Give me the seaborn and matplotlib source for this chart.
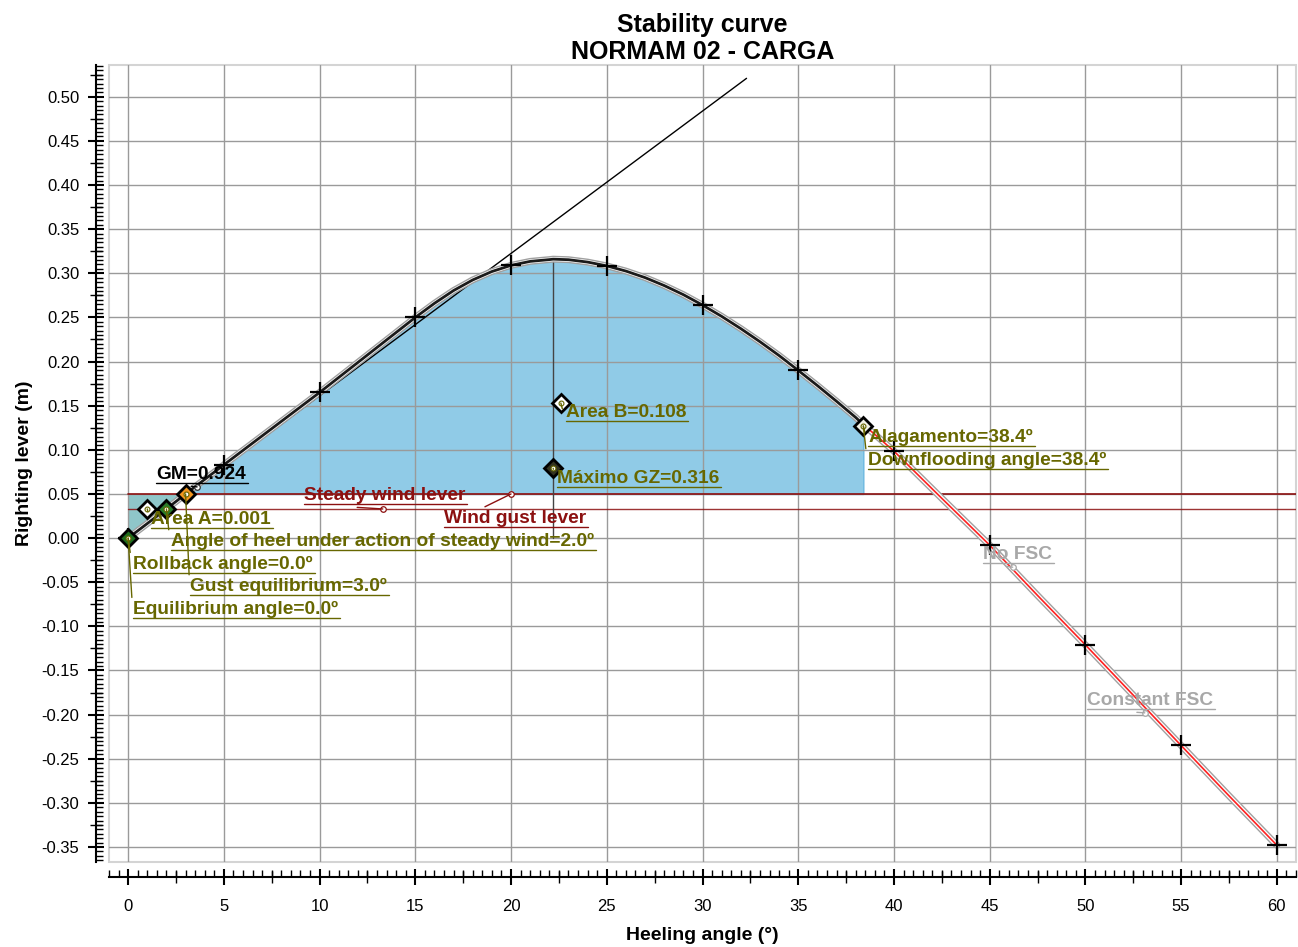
import numpy as np
import pandas as pd
import matplotlib
matplotlib.use("Agg")
import matplotlib.pyplot as plt
import matplotlib.ticker as mticker
from matplotlib.patches import Rectangle
import seaborn as sns

# ---------------- data ----------------
angles = [0, 1, 2, 3, 5, 7.5, 10, 12.5, 15, 16, 17, 18, 19, 20, 21, 22, 22.2, 23, 24,
          25, 26, 27, 28, 29, 30, 31, 32, 33, 34, 35, 36, 37, 38, 38.4, 39, 40,
          42.5, 45, 47.5, 50, 52.5, 55, 57.5, 60]
gz = [0.000, 0.0165, 0.033, 0.050, 0.083, 0.124, 0.165, 0.2075, 0.250, 0.266, 0.2805,
      0.2925, 0.302, 0.309, 0.3135, 0.3155, 0.316, 0.3154, 0.3127, 0.3084, 0.3025,
      0.2951, 0.2861, 0.2758, 0.2640, 0.2512, 0.2373, 0.2225, 0.2068, 0.1900, 0.1728,
      0.1550, 0.1367, 0.1285, 0.1175, 0.0985, 0.045, -0.008, -0.065, -0.121, -0.178,
      -0.235, -0.292, -0.348]
cross_angles = [0, 5, 10, 15, 20, 25, 30, 35, 40, 45, 50, 55, 60]
cross_gz = [0.000, 0.083, 0.165, 0.250, 0.309, 0.3084, 0.264, 0.190, 0.0985,
            -0.008, -0.121, -0.235, -0.348]

gm = 0.924
gm_line_end = 32.3
steady_lever = 0.033
gust_lever = 0.050
gust_eq = 3.0
steady_heel = 2.0
downflood = 38.4
max_gz_angle = 22.2
max_gz = 0.316

x_major = list(range(0, 61, 5))
y_major = [round(-0.35 + 0.05 * i, 2) for i in range(18)]
x_medium = [2.5 + 5 * i for i in range(12)]
y_medium = [round(-0.325 + 0.05 * i, 3) for i in range(18)]

# diamonds
diamonds_x = [0.0, 1.0, 2.0, 3.0, 22.6, 22.2, 38.4]
diamonds_y = [0.000, 0.033, 0.033, 0.050, 0.153, 0.079, 0.127]
diamonds_c = ["#1e6e1e", "#ffffff", "#2a7d2a", "#f0951e", "#ffffff", "#333320", "#f2f2e6"]

OLIVE = "#676700"
DRED = "#8c1010"
LGRAY = "#a8a8a8"

labels = [
    ("GM=0.924", (3.6, 0.058), (1.46, 0.0623), "black"),
    ("Steady wind lever", (13.3, 0.033), (9.18, 0.0385), DRED),
    ("Wind gust lever", (20.0, 0.050), (16.48, 0.0125), DRED),
    ("Area A=0.001", (1.0, 0.033), (1.20, 0.0117), OLIVE),
    ("Angle of heel under action of steady wind=2.0º", (2.0, 0.033), (2.24, -0.0136), OLIVE),
    ("Rollback angle=0.0º", (0.0, 0.0), (0.26, -0.0393), OLIVE),
    ("Gust equilibrium=3.0º", (3.0, 0.050), (3.23, -0.0646), OLIVE),
    ("Equilibrium angle=0.0º", (0.0, 0.0), (0.26, -0.0903), OLIVE),
    ("Area B=0.108", (22.6, 0.153), (22.85, 0.1325), OLIVE),
    ("Máximo GZ=0.316", (22.2, 0.079), (22.38, 0.0578), OLIVE),
    ("Alagamento=38.4º", (38.4, 0.127), (38.65, 0.1046), OLIVE),
    ("Downflooding angle=38.4º", (38.4, 0.127), (38.65, 0.0782), OLIVE),
    ("No FSC", (46.2, -0.033), (44.65, -0.0283), LGRAY),
    ("Constant FSC", (53.1, -0.198), (50.08, -0.1937), LGRAY),
]
small_circles = [(3.6, 0.058, "#333333"), (13.3, 0.033, DRED), (20.0, 0.050, DRED),
                 (46.2, -0.033, LGRAY), (53.1, -0.198, LGRAY)]

# ---------------- style ----------------
sns.set_theme(style="white")
plt.rcParams["font.family"] = ["Liberation Sans", "DejaVu Sans"]
plt.rcParams["axes.unicode_minus"] = False
plt.rcParams["text.color"] = "black"

df = pd.DataFrame({"angle": angles, "gz": gz})
a = np.array(angles)
g = np.array(gz)

fig = plt.figure(figsize=(12.98, 9.47), dpi=100)
ax = fig.add_axes([109 / 1298, 85 / 947, (1296 - 109) / 1298, (862 - 65) / 947])

ax.set_xlim(-1, 61)
ax.set_ylim(-0.367, 0.536)

# fills
mA = a <= gust_eq
ax.fill_between(a[mA], g[mA], gust_lever, color="#8fc6c9", lw=0, zorder=1)
mB = (a >= gust_eq) & (a <= downflood)
ax.fill_between(a[mB], g[mB], gust_lever, color="#90cbe7", edgecolor="#6cb8e0",
                lw=1, zorder=1)

# wind levers
ax.axhline(gust_lever, xmin=1 / 62, xmax=1, color=DRED, lw=1.2, zorder=3)
ax.axhline(steady_lever, xmin=1 / 62, xmax=1, color=DRED, lw=1.0, alpha=0.85, zorder=3)

# GM line
ax.plot([0, gm_line_end], [0, gm * np.radians(gm_line_end)], color="black", lw=1, zorder=4)

# max GZ vertical
ax.plot([max_gz_angle, max_gz_angle], [0, max_gz], color="#444444", lw=1, zorder=3)

# curves: gray halo (No FSC / Constant FSC), then main
sns.lineplot(data=df, x="angle", y="gz", ax=ax, color="#a0a0a0", lw=5.0, sort=False,
             estimator=None, zorder=4)
sns.lineplot(data=df, x="angle", y="gz", ax=ax, color="white", lw=3.0, sort=False,
             estimator=None, zorder=4)
dfa = df[df.angle <= downflood]
dfb = df[df.angle >= downflood]
sns.lineplot(data=dfa, x="angle", y="gz", ax=ax, color="#1a1a1a", lw=2, sort=False,
             estimator=None, zorder=5)
sns.lineplot(data=dfb, x="angle", y="gz", ax=ax, color="#ff2020", lw=1.2, sort=False,
             estimator=None, zorder=5)

# cross markers
ax.plot(cross_angles, cross_gz, ls="none", marker="+", ms=14, mew=1.6, color="black", zorder=6)

# diamonds
for x, y, c in zip(diamonds_x, diamonds_y, diamonds_c):
    ax.plot([x], [y], marker="D", ms=9, mfc=c, mec="black", mew=2, ls="none", zorder=7)
    ax.plot([x], [y], marker="o", ms=3.5, mfc="white", mec=OLIVE, mew=0.8, ls="none", zorder=8)

for x, y, c in small_circles:
    ax.plot([x], [y], marker="o", ms=4, mfc="white", mec=c, mew=0.9, ls="none", zorder=8)

# labels
texts = []
for txt, anc, pos, col in labels:
    t = ax.annotate(txt, xy=anc, xytext=pos, textcoords="data", ha="left", va="bottom",
                    fontsize=13.8, fontweight="bold", color=col, zorder=9,
                    arrowprops=dict(arrowstyle="-", color=col, lw=1, shrinkA=0, shrinkB=0,
                                    relpos=(0, 0)))
    texts.append((t, pos, col))

# axes style
ax.grid(True, which="major", color="#9a9a9a", lw=1)
ax.set_axisbelow(False)
ax.set_xticks(x_major)
ax.set_yticks(y_major)
ax.xaxis.set_minor_locator(mticker.MultipleLocator(0.5))
ax.yaxis.set_minor_locator(mticker.MultipleLocator(0.005))
ax.yaxis.set_major_formatter(mticker.FormatStrFormatter("%.2f"))
ax.xaxis.set_major_formatter(mticker.FormatStrFormatter("%d"))

for s in ["top", "right"]:
    ax.spines[s].set_visible(False)
ax.spines["left"].set_position(("outward", 9.4))
ax.spines["bottom"].set_position(("outward", 10.8))
for s in ["left", "bottom"]:
    ax.spines[s].set_color("black")
    ax.spines[s].set_linewidth(1.5)
ax.add_patch(Rectangle((0, 0), 1, 1, transform=ax.transAxes, fill=False,
                       edgecolor="#d4d4d4", lw=1.5, clip_on=False, zorder=0))

ax.tick_params(axis="both", which="major", direction="inout", length=12, width=1.5,
               color="black", labelsize=12, labelcolor="black")
ax.tick_params(axis="x", which="major", pad=10)
ax.tick_params(axis="y", which="major", pad=6)
ax.tick_params(axis="both", which="minor", direction="in", length=5, width=1, color="black")
ax.tick_params(left=True, bottom=True, which="both")

# medium ticks (2.5 / 0.025)
secx = ax.secondary_xaxis(0)
secx.spines["bottom"].set_position(("outward", 10.8))
secx.spines["bottom"].set_visible(False)
secx.set_xticks(x_medium)
secx.tick_params(axis="x", which="major", direction="inout", length=8, width=1,
                 color="black", labelbottom=False)
secx.xaxis.set_minor_locator(mticker.NullLocator())
secy = ax.secondary_yaxis(0)
secy.spines["left"].set_position(("outward", 9.4))
secy.spines["left"].set_visible(False)
secy.set_yticks(y_medium)
secy.tick_params(axis="y", which="major", direction="inout", length=8, width=1,
                 color="black", labelleft=False)
secy.yaxis.set_minor_locator(mticker.NullLocator())

ax.set_xlabel("Heeling angle (°)", fontsize=14, fontweight="bold", labelpad=9.5, color="black")
ax.set_ylabel("Righting lever (m)", fontsize=14, fontweight="bold", labelpad=6, color="black")
ax.set_title("Stability curve\nNORMAM 02 - CARGA", fontsize=18, fontweight="bold",
             pad=4, linespacing=1.18, color="black")

# underlines
fig.canvas.draw()
r = fig.canvas.get_renderer()
inv = ax.transData.inverted()
for t, pos, col in texts:
    bb = t.get_window_extent(renderer=r)
    xr = inv.transform((bb.x1 + 2, bb.y0))[0]
    ax.plot([pos[0], xr], [pos[1], pos[1]], color=col, lw=1, zorder=9, clip_on=False)

fig.savefig("out.png", dpi=100)
